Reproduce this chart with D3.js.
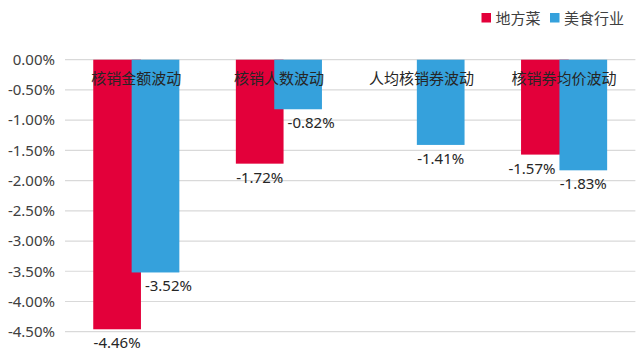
<!DOCTYPE html>
<html><head><meta charset="utf-8">
<script src="https://cdn.jsdelivr.net/npm/d3@7"></script>
<style>
html,body{margin:0;padding:0;background:#fff;}
text{font-family:"Noto Sans","Noto Sans CJK SC",sans-serif;}
</style></head>
<body><svg id="c" width="640" height="353"></svg>
<script>
const categories = ["核销金额波动","核销人数波动","人均核销券波动","核销券均价波动"];
const seriesNames = ["地方菜","美食行业"];
const localValues = [-4.46, -1.72, null, -1.57];
const industryValues = [-3.52, -0.82, -1.41, -1.83];
const yTicks = [0, -0.5, -1, -1.5, -2, -2.5, -3, -3.5, -4, -4.5];
const colors = ["#E3003A", "#35A1DC"];

const series = [localValues, industryValues];
const svg = d3.select("#c");
const font = '"Noto Sans","Noto Sans CJK SC",sans-serif';
const loc = d3.formatLocale({decimal: ".", thousands: ",", grouping: [3], currency: ["", ""], minus: "-"});
const fmt = v => loc.format(".2f")(v === 0 ? 0 : v) + "%";

const x = d3.scaleBand().domain(categories).range([65, 635.4]).padding(0);
const y = d3.scaleLinear().domain([-4.5, 0]).range([331.7, 59.7]);

// gridlines
svg.append("g").selectAll("line").data(yTicks).join("line")
  .attr("x1", 65).attr("x2", 635.4)
  .attr("y1", d => y(d)).attr("y2", d => y(d))
  .attr("stroke", "#d9d9d9").attr("stroke-width", 1.2);

// y axis
const yAxis = d3.axisLeft(y).tickValues(yTicks).tickSize(0).tickPadding(10).tickFormat(fmt);
const ya = svg.append("g").attr("transform", "translate(65,0)").call(yAxis);
ya.select(".domain").remove();
ya.selectAll("text").attr("font-size", 15).attr("fill", "#404040").attr("font-family", font);

const bw = x.bandwidth() * 0.3345;
const overlap = bw * 0.195;
const groupW = bw * 2 - overlap;
const barX = (cat, s) => x(cat) + (x.bandwidth() - groupW) / 2 + s * (bw - overlap);

// bars
series.forEach((vals, s) => {
  svg.append("g").selectAll("rect")
    .data(categories.map((c, i) => ({c, v: vals[i]})).filter(d => d.v !== null))
    .join("rect")
    .attr("x", d => barX(d.c, s)).attr("width", bw)
    .attr("y", y(0)).attr("height", d => y(d.v) - y(0))
    .attr("fill", colors[s]);
});

// category labels (axis at zero)
svg.append("g").selectAll("text").data(categories).join("text")
  .attr("x", d => x(d) + x.bandwidth() / 2).attr("y", y(0) + 24)
  .attr("text-anchor", "middle").attr("font-size", 15).attr("fill", "#262626")
  .attr("font-family", font).text(d => d);

// value labels with collision shift away from sibling bar
series.forEach((vals, s) => {
  const other = series[1 - s];
  categories.forEach((c, i) => {
    const v = vals[i];
    if (v === null) return;
    const cx = barX(c, s) + bw / 2;
    const by = y(v) + 19;
    const t = svg.append("text").attr("x", cx).attr("y", by)
      .attr("text-anchor", "middle").attr("font-size", 15).attr("fill", "#262626")
      .attr("font-family", font).text(fmt(v));
    const w = t.node().getComputedTextLength();
    const ov = other[i];
    if (ov !== null && y(ov) > by - 12) {
      if (s === 1) {
        const edge = barX(c, 0) + bw + 4;
        if (cx - w / 2 < edge) t.attr("x", edge + w / 2);
      } else {
        const edge = barX(c, 1) - 4;
        if (cx + w / 2 > edge) t.attr("x", edge - w / 2);
      }
    }
  });
});

// legend
const legX = [481.5, 550];
const leg = svg.append("g");
seriesNames.forEach((n, i) => {
  leg.append("rect").attr("x", legX[i]).attr("y", 13).attr("width", 9.5).attr("height", 9.5).attr("fill", colors[i]);
  leg.append("text").attr("x", legX[i] + 14).attr("y", 23.5).attr("font-size", 15)
    .attr("fill", "#404040").attr("font-family", font).text(n);
});
</script></body></html>
